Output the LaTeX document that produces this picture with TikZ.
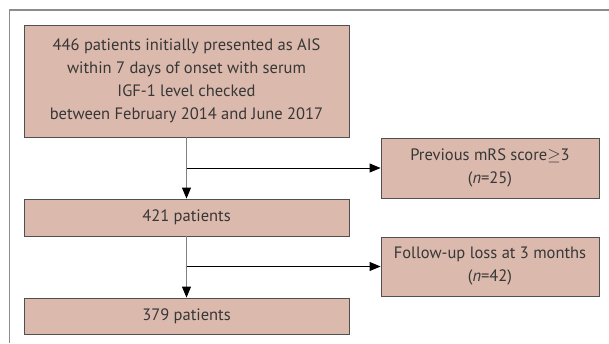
\documentclass[tikz,border=0pt]{standalone}
\usepackage{fontspec}
\setmainfont{PT Sans}
\usetikzlibrary{arrows.meta}

\definecolor{boxfill}{RGB}{219,185,173}
\definecolor{boxline}{RGB}{80,80,80}
\definecolor{frameline}{RGB}{140,140,140}
\definecolor{txtgray}{RGB}{55,55,55}

\tikzset{
  flowbox/.style={draw=boxline, line width=0.9pt, fill=boxfill, text=txtgray, align=center,
    inner sep=0pt, font=\fontsize{16.5}{23}\selectfont},
  downarrow/.style={draw=gray, line width=1pt, -{Triangle[black, length=11pt, width=9pt]}},
  sidearrow/.style={draw=black, line width=0.9pt, -{Triangle[black, length=11pt, width=9pt]}}
}

\begin{document}
\begin{tikzpicture}[x=1pt,y=-1pt]
		\useasboundingbox (0,0) rectangle (609,343);
		
		% frame
		\draw[frameline, line width=1.6pt] (9.5,343) -- (9.5,10) -- (609,10);
		
		% main column
		\node[flowbox, minimum width=325pt, minimum height=112pt] (start) at (186.5,81)
			{446 patients initially presented as AIS\\within 7 days of onset with serum\\IGF-1 level checked\\between February 2014 and June 2017};
		\node[flowbox, minimum width=325pt, minimum height=37pt] (mid) at (186.5,217.5) {421 patients};
		\node[flowbox, minimum width=325pt, minimum height=36pt] (final) at (186.5,316) {379 patients};
		
		% exclusions
		\node[flowbox, minimum width=218pt, minimum height=60pt] (excl1) at (490,168)
			{Previous mRS score$\geq$3\\(\textit{n}=25)};
		\node[flowbox, minimum width=218pt, minimum height=59pt] (excl2) at (490,266.5)
			{Follow-up loss at 3 months\\(\textit{n}=42)};
		
		\coordinate (split1) at (start.south |- excl1.west);
		\coordinate (split2) at (mid.south |- excl2.west);
		
		\draw[downarrow] (start) -- (mid);
		\draw[downarrow] (mid) -- (final);
		\draw[sidearrow] (split1) -- (excl1);
		\draw[sidearrow] (split2) -- (excl2);
		
\end{tikzpicture}
\end{document}
